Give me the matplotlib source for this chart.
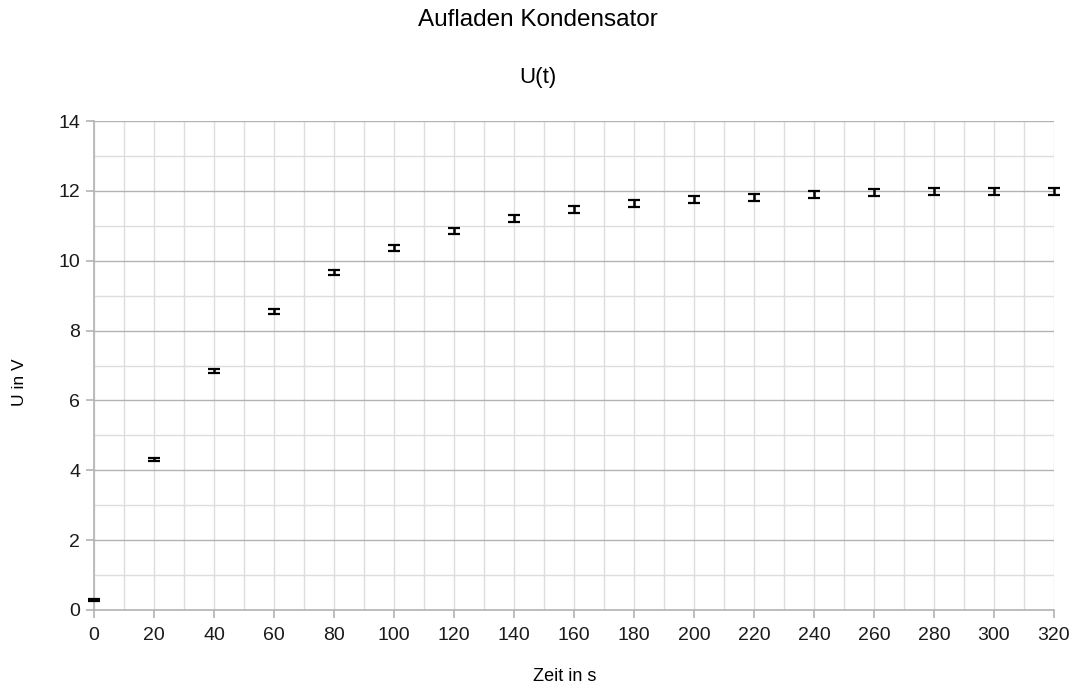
import matplotlib
matplotlib.use("Agg")
import matplotlib.pyplot as plt
from matplotlib.ticker import MultipleLocator

plt.rcParams['font.family'] = ['Liberation Sans', 'DejaVu Sans']

t_s = [0, 20, 40, 60, 80, 100, 120, 140, 160, 180, 200, 220, 240, 260, 280, 300, 320]
U_V = [0.29, 4.31, 6.84, 8.54, 9.66, 10.36, 10.86, 11.21, 11.47, 11.64, 11.75, 11.81, 11.89, 11.94, 11.98, 11.98, 11.99]
U_err = [0.03, 0.04, 0.05, 0.07, 0.07, 0.08, 0.09, 0.09, 0.10, 0.10, 0.10, 0.10, 0.10, 0.10, 0.10, 0.10, 0.10]

title = "Aufladen Kondensator"
subtitle = "U(t)"
xlabel = "Zeit in s"
ylabel = "U in V"

fig = plt.figure(figsize=(10.75, 6.88), dpi=100)
ax = fig.add_axes([94/1075, 78/688, 960/1075, 489/688])

ax.errorbar(t_s, U_V, yerr=U_err, fmt='none', ecolor='black',
            elinewidth=1.8, capsize=4.0, capthick=1.6, zorder=3, clip_on=False)

ax.set_xlim(0, 320)
ax.set_ylim(0, 14)
ax.xaxis.set_major_locator(MultipleLocator(20))
ax.xaxis.set_minor_locator(MultipleLocator(10))
ax.yaxis.set_major_locator(MultipleLocator(2))
ax.yaxis.set_minor_locator(MultipleLocator(1))

ax.yaxis.grid(True, which='major', color='#b3b3b3', linewidth=1.0, zorder=0)
ax.yaxis.grid(True, which='minor', color='#dddddd', linewidth=1.0, zorder=0)
ax.xaxis.grid(True, which='both', color='#dddddd', linewidth=1.0, zorder=0)
ax.set_axisbelow(True)

for s in ['top', 'right']:
    ax.spines[s].set_visible(False)
for s in ['left', 'bottom']:
    ax.spines[s].set_color('#b3b3b3')
    ax.spines[s].set_linewidth(1.2)

ax.tick_params(which='major', direction='out', length=6, color='#b3b3b3',
               width=1.2, labelsize=14, labelcolor='#1a1a1a', pad=4)
ax.tick_params(axis='x', which='major', pad=6)
ax.tick_params(which='minor', length=0)

fig.text(0.5, 0.971, title, ha='center', va='center', fontsize=17.5, color='black')
fig.text(0.5, 0.888, subtitle, ha='center', va='center', fontsize=16, color='black')
fig.text(565/1075, 0.016, xlabel, ha='center', va='center', fontsize=13, color='black')
fig.text(20/1075, 1 - 382/688, ylabel, ha='center', va='center', fontsize=12.5,
         rotation=90, color='black')

fig.savefig("out.png", dpi=100)
